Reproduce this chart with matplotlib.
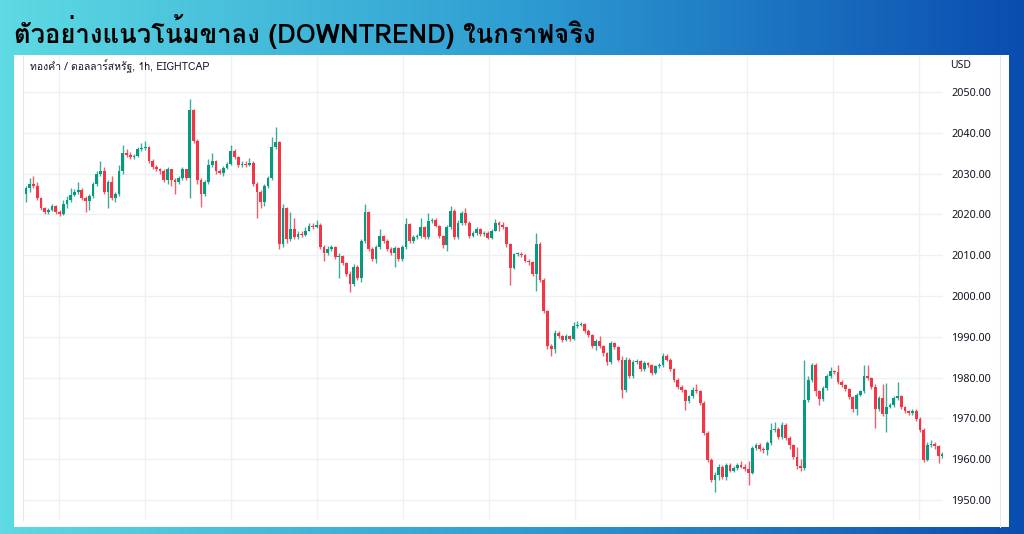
import numpy as np
import matplotlib
matplotlib.use("Agg")
import matplotlib.pyplot as plt
from matplotlib import font_manager
from matplotlib.ft2font import FT2Font
from matplotlib.colors import LinearSegmentedColormap
from matplotlib.patches import Rectangle
from matplotlib.lines import Line2D

# XAUUSD 1h candles (open = previous close)
first_open = 2025.0
closes = [
    2026.5, 2027.5, 2027.0, 2024.0, 2021.5, 2020.5, 2021.0, 2022.0, 2020.5, 2020.0,
    2022.5, 2023.5, 2024.7, 2025.5, 2026.0, 2024.0, 2023.3, 2024.5, 2027.5, 2030.0,
    2030.5, 2025.5, 2028.0, 2024.0, 2025.0, 2030.5, 2035.0, 2034.6, 2034.0, 2034.3,
    2036.0, 2036.2, 2036.6, 2033.0, 2031.5, 2031.0, 2030.5, 2028.5, 2031.0, 2028.5,
    2028.0, 2029.0, 2031.0, 2029.0, 2045.5, 2038.0, 2028.5, 2025.0, 2028.0, 2032.0,
    2033.0, 2030.5, 2030.2, 2031.3, 2032.3, 2035.5, 2034.0, 2032.0, 2032.4, 2032.1,
    2032.6, 2027.5, 2025.5, 2023.0, 2027.0, 2029.0, 2036.5, 2037.7, 2012.7, 2021.5,
    2014.0, 2016.5, 2014.5, 2015.2, 2015.0, 2016.0, 2017.2, 2017.0, 2017.5, 2012.0,
    2010.5, 2011.5, 2012.0, 2009.5, 2009.8, 2008.0, 2005.5, 2003.0, 2007.0, 2004.5,
    2013.5, 2020.5, 2011.5, 2009.0, 2012.0, 2014.6, 2013.5, 2011.5, 2010.5, 2011.8,
    2009.0, 2012.0, 2017.6, 2013.5, 2014.5, 2014.7, 2016.8, 2014.5, 2018.4, 2018.6,
    2017.2, 2014.7, 2012.5, 2017.0, 2020.8, 2014.5, 2018.0, 2020.4, 2018.0, 2014.7,
    2015.5, 2016.3, 2015.2, 2015.5, 2014.3, 2016.0, 2018.0, 2017.4, 2016.8, 2012.7,
    2006.9, 2010.2, 2010.4, 2010.0, 2008.6, 2008.2, 2005.3, 2012.7, 2004.0, 1996.2,
    1987.7, 1987.0, 1991.0, 1990.1, 1989.3, 1990.1, 1989.5, 1992.6, 1993.0, 1993.1,
    1991.4, 1990.5, 1987.7, 1989.0, 1987.8, 1986.0, 1983.7, 1988.5, 1987.5, 1984.4,
    1977.0, 1984.4, 1980.3, 1983.7, 1984.0, 1982.0, 1983.5, 1983.0, 1981.1, 1982.8,
    1983.0, 1985.2, 1984.4, 1982.0, 1979.5, 1977.8, 1977.0, 1974.2, 1975.4, 1977.0,
    1976.6, 1973.8, 1966.4, 1959.8, 1954.9, 1956.1, 1958.2, 1955.7, 1958.6, 1957.2,
    1957.8, 1958.6, 1958.2, 1957.5, 1956.7, 1962.7, 1963.5, 1962.5, 1962.2, 1964.0,
    1967.2, 1967.5, 1965.5, 1968.5, 1965.2, 1963.5, 1960.6, 1958.3, 1957.8, 1974.6,
    1979.5, 1983.2, 1976.6, 1974.7, 1977.5, 1980.3, 1981.5, 1981.3, 1979.0, 1978.2,
    1977.2, 1975.3, 1972.2, 1975.8, 1976.6, 1980.3, 1979.8, 1977.8, 1972.2, 1975.0,
    1971.0, 1972.9, 1973.3, 1974.9, 1975.4, 1972.8, 1971.7, 1971.3, 1971.9, 1969.8,
    1967.2, 1959.8, 1963.5, 1963.8, 1963.2, 1960.7, 1961.3,
]
highs = [
    2027.0, 2029.0, 2029.5, 2028.0, 2024.3, 2021.8, 2021.5, 2022.5, 2022.3, 2021.0,
    2023.5, 2024.5, 2026.5, 2026.2, 2028.0, 2026.5, 2024.5, 2025.0, 2028.0, 2030.5,
    2033.0, 2031.5, 2028.5, 2029.5, 2025.5, 2032.0, 2037.0, 2036.0, 2035.2, 2034.8,
    2036.5, 2037.5, 2038.0, 2036.8, 2033.5, 2032.0, 2031.3, 2031.0, 2031.5, 2031.2,
    2029.0, 2029.5, 2031.5, 2031.2, 2048.3, 2045.8, 2038.5, 2029.0, 2028.5, 2033.5,
    2035.0, 2033.2, 2031.2, 2031.8, 2032.8, 2037.0, 2036.0, 2034.3, 2033.0, 2033.0,
    2033.8, 2033.0, 2028.0, 2026.0, 2027.5, 2029.5, 2039.0, 2041.4, 2038.0, 2022.5,
    2021.8, 2020.5, 2019.0, 2016.0, 2015.8, 2016.8, 2017.8, 2018.0, 2018.5, 2017.8,
    2012.5, 2012.3, 2012.6, 2012.2, 2010.5, 2010.0, 2008.2, 2006.0, 2007.8, 2007.5,
    2014.0, 2022.5, 2020.8, 2012.0, 2012.5, 2016.3, 2015.0, 2014.0, 2012.0, 2012.2,
    2012.0, 2012.5, 2019.2, 2017.8, 2015.0, 2015.2, 2019.2, 2017.2, 2020.4, 2019.2,
    2019.0, 2017.5, 2015.0, 2017.5, 2022.1, 2021.2, 2018.5, 2020.8, 2021.6, 2018.3,
    2016.0, 2016.8, 2016.6, 2016.0, 2015.8, 2016.5, 2018.8, 2018.3, 2018.2, 2017.0,
    2013.0, 2010.6, 2010.8, 2010.8, 2010.3, 2009.0, 2008.6, 2015.5, 2013.2, 2004.5,
    1996.6, 1988.2, 1991.6, 1991.3, 1990.5, 1990.6, 1990.4, 1993.5, 1993.8, 1993.6,
    1993.4, 1991.8, 1990.8, 1989.4, 1990.2, 1988.0, 1986.3, 1989.0, 1988.8, 1987.8,
    1985.2, 1985.0, 1984.8, 1984.2, 1984.6, 1984.3, 1984.0, 1983.8, 1983.3, 1983.2,
    1983.5, 1986.0, 1985.8, 1984.7, 1982.3, 1980.0, 1978.2, 1977.3, 1975.8, 1977.8,
    1978.5, 1977.0, 1974.2, 1967.0, 1960.2, 1956.8, 1958.8, 1958.6, 1959.0, 1959.0,
    1958.3, 1959.1, 1959.6, 1958.8, 1959.5, 1963.2, 1964.0, 1964.0, 1963.0, 1964.5,
    1968.9, 1969.0, 1968.0, 1969.0, 1968.8, 1965.6, 1963.8, 1963.0, 1960.0, 1984.4,
    1980.5, 1983.6, 1983.5, 1977.0, 1978.0, 1980.8, 1982.5, 1981.9, 1983.0, 1979.4,
    1978.5, 1977.5, 1975.6, 1976.2, 1977.0, 1983.0, 1983.0, 1980.2, 1978.4, 1975.5,
    1978.4, 1978.6, 1973.8, 1975.4, 1978.9, 1975.8, 1973.1, 1972.0, 1972.3, 1972.4,
    1970.4, 1967.6, 1964.3, 1964.6, 1964.2, 1963.6, 1961.8,
]
lows = [
    2023.0, 2025.5, 2026.5, 2023.5, 2021.0, 2020.0, 2020.0, 2020.8, 2020.0, 2019.5,
    2019.8, 2021.5, 2023.0, 2024.5, 2025.0, 2023.5, 2020.5, 2021.0, 2024.0, 2027.0,
    2029.5, 2025.0, 2021.5, 2023.5, 2023.0, 2024.5, 2030.0, 2034.0, 2033.5, 2033.5,
    2034.0, 2035.5, 2035.8, 2032.5, 2031.0, 2030.5, 2030.0, 2028.0, 2027.5, 2027.0,
    2025.0, 2027.5, 2028.5, 2028.5, 2024.0, 2037.5, 2027.5, 2021.7, 2024.5, 2027.5,
    2031.5, 2030.0, 2029.8, 2029.5, 2031.0, 2032.0, 2033.5, 2031.5, 2031.5, 2031.6,
    2031.8, 2027.0, 2019.0, 2021.5, 2022.0, 2026.5, 2028.5, 2036.0, 2011.4, 2012.0,
    2013.0, 2013.5, 2014.0, 2014.0, 2014.5, 2014.6, 2015.8, 2016.5, 2016.6, 2011.5,
    2008.5, 2010.0, 2011.0, 2009.0, 2004.5, 2007.5, 2005.0, 2001.0, 2002.5, 2004.0,
    2003.5, 2013.0, 2011.0, 2008.5, 2008.0, 2011.5, 2013.0, 2011.0, 2010.0, 2007.0,
    2008.5, 2008.5, 2011.5, 2013.0, 2013.0, 2014.0, 2014.3, 2014.0, 2014.0, 2018.0,
    2016.8, 2014.2, 2011.8, 2011.0, 2016.5, 2014.0, 2014.0, 2017.5, 2017.5, 2014.2,
    2014.5, 2015.0, 2014.8, 2014.8, 2014.0, 2014.0, 2015.8, 2016.0, 2016.3, 2012.0,
    2002.8, 2006.5, 2009.8, 2009.6, 2008.2, 2007.6, 2004.8, 2001.2, 2003.5, 1995.8,
    1987.0, 1985.3, 1986.0, 1989.6, 1988.8, 1989.0, 1989.0, 1989.2, 1992.2, 1992.6,
    1991.0, 1990.0, 1987.2, 1986.8, 1987.3, 1985.4, 1983.2, 1983.3, 1987.0, 1984.0,
    1975.0, 1976.5, 1979.8, 1979.8, 1983.3, 1981.5, 1981.6, 1982.5, 1980.6, 1980.8,
    1982.4, 1982.6, 1984.0, 1981.5, 1979.0, 1977.3, 1976.5, 1972.0, 1973.8, 1975.0,
    1976.2, 1973.3, 1966.0, 1959.3, 1954.3, 1952.0, 1955.0, 1955.2, 1955.0, 1956.8,
    1956.8, 1957.4, 1957.8, 1957.0, 1953.7, 1956.3, 1962.3, 1962.0, 1961.5, 1961.0,
    1963.6, 1966.6, 1965.0, 1965.0, 1964.8, 1962.5, 1960.0, 1957.6, 1957.0, 1957.4,
    1974.0, 1979.0, 1975.5, 1973.2, 1974.2, 1977.0, 1980.0, 1980.9, 1978.5, 1977.7,
    1976.8, 1974.8, 1971.5, 1970.8, 1975.4, 1976.2, 1979.4, 1977.3, 1967.6, 1971.8,
    1970.5, 1966.7, 1972.5, 1972.9, 1974.5, 1972.3, 1971.2, 1970.9, 1970.9, 1969.3,
    1966.7, 1959.3, 1959.5, 1963.0, 1962.6, 1959.0, 1960.3,
]
price_ticks = [1950, 1960, 1970, 1980, 1990, 2000, 2010, 2020, 2030, 2040, 2050]
day_lines = [8.85, 31.9, 55.0, 78.1, 101.2, 124.3, 147.4, 170.5, 193.6, 216.7, 239.8]

title = "ตัวอย่างแนวโน้มขาลง (DOWNTREND) ในกราฟจริง"
symbol_label = "ทองคำ / ดอลลาร์สหรัฐ, 1h, EIGHTCAP"

UP = "#089981"
DOWN = "#f23645"
GRID = "#eef0f4"


def find_thai_font():
    for f in font_manager.fontManager.ttflist:
        try:
            if 0x0E01 in FT2Font(f.fname).get_charmap():
                return f.name
        except Exception:
            pass
    return None


thai = find_thai_font()
fam = [thai, "DejaVu Sans"] if thai else ["DejaVu Sans"]

W, H = 1024, 534
fig = plt.figure(figsize=(W / 100, H / 100), dpi=100)

# gradient backdrop
bg = fig.add_axes([0, 0, 1, 1], zorder=-2)
cmap = LinearSegmentedColormap.from_list("bg", ["#5ddae3", "#2f9ed3", "#0a4db0"])
bg.imshow(np.linspace(0, 1, 256)[None, :], aspect="auto", cmap=cmap, extent=[0, 1, 0, 1])
bg.set_axis_off()

# white chart panel
fig.add_artist(Rectangle((14 / W, 1 - 527 / H), (1009 - 14) / W, (527 - 55) / H,
                         transform=fig.transFigure, facecolor="white", edgecolor="none", zorder=-1))
fig.add_artist(Line2D([1000 / W, 1000 / W], [1 - 527 / H, 1 - 55 / H],
                      transform=fig.transFigure, color="#e3e6ec", lw=0.8, zorder=-0.5))

fig.text(14 / W, 1 - 32 / H, title, family=fam, fontsize=18.5, fontweight="bold",
         color="black", va="center", ha="left")

ax = fig.add_axes([23 / W, 1 - 520 / H, (943 - 23) / W, (520 - 56) / H], zorder=1)
ax.set_facecolor("none")

opens = [first_open] + closes[:-1]
o = np.array(opens)
c = np.array(closes)
hi = np.array(highs)
lo = np.array(lows)
idx = np.arange(len(c))
cols = np.where(c >= o, UP, DOWN)

ax.vlines(idx, lo, hi, colors=cols, linewidth=1.0, alpha=0.8, zorder=2)
body = np.maximum(np.abs(c - o), 0.25)
ax.bar(idx, body, bottom=np.minimum(o, c), width=0.74, color=cols, linewidth=0, zorder=3)

ax.set_xlim(-0.8, 246.2)
ax.set_ylim(1945.1, 2058.8)
ax.set_xticks(day_lines)
ax.set_yticks(price_ticks)
ax.set_yticklabels([f"{v:.2f}" for v in price_ticks])
ax.yaxis.tick_right()
ax.tick_params(axis="y", length=0, pad=6, labelsize=7.8, labelcolor="#131722")
ax.tick_params(axis="x", length=0, labelbottom=False)
for lab in ax.get_yticklabels():
    lab.set_family(["Noto Sans", "DejaVu Sans"])
ax.grid(True, color=GRID, linewidth=1.0, zorder=0)
for s in ["top", "right", "bottom"]:
    ax.spines[s].set_visible(False)
ax.spines["left"].set_color("#e3e6ec")
ax.spines["left"].set_linewidth(0.8)

fig.text(950 / W, 1 - 65 / H, "USD", family=["Noto Sans", "DejaVu Sans"], fontsize=7.5,
         color="#131722", va="center", ha="left")
fig.text(30 / W, 1 - 66 / H, symbol_label, family=fam, fontsize=7.5,
         color="#131722", va="center", ha="left")

fig.savefig("out.png", dpi=100)
